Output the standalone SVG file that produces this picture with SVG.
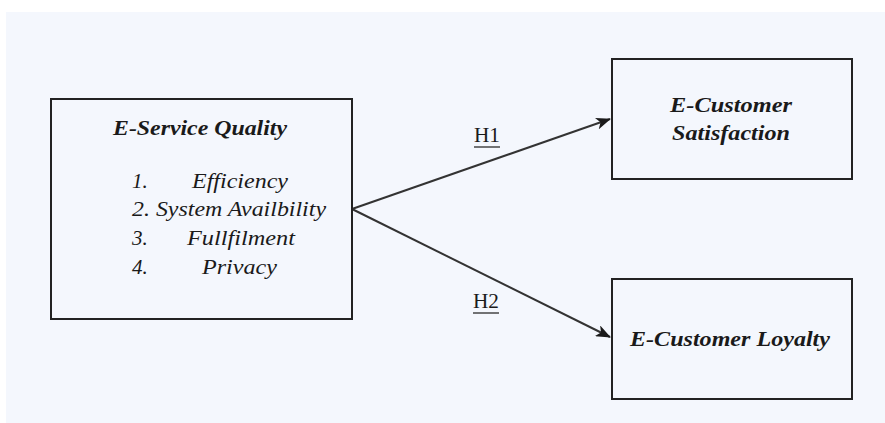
<svg xmlns="http://www.w3.org/2000/svg" width="885" height="423" viewBox="0 0 885 423">
  <defs>
    <marker id="arrow" markerWidth="15" markerHeight="12" refX="14" refY="6" orient="auto" markerUnits="userSpaceOnUse">
      <path d="M0,0 L15,6 L0,12 L4,6 Z" fill="#1a1a1a"/>
    </marker>
  </defs>
  <style>
    .box { fill: #f4f7fd; stroke: #222; stroke-width: 2; }
    .title { font-family: 'Liberation Serif', serif; font-style: italic; font-weight: bold; font-size: 21px; fill: #1a1a1a; }
    .item { font-family: 'Liberation Serif', serif; font-style: italic; font-size: 21px; fill: #1a1a1a; }
    .lbl { font-family: 'Liberation Serif', serif; font-size: 20px; fill: #1a1a1a; }
    .conn { stroke: #333; stroke-width: 2; fill: none; }
  </style>
  <rect x="0" y="0" width="885" height="423" fill="#ffffff"/>
  <rect x="6" y="12" width="879" height="411" fill="#f4f7fd"/>

  <g id="connectors">
    <line class="conn" x1="352" y1="209" x2="610" y2="119" marker-end="url(#arrow)"/>
    <line class="conn" x1="352" y1="209" x2="610" y2="337" marker-end="url(#arrow)"/>
    <g id="label-h1">
      <text class="lbl" x="474" y="142" textLength="26" lengthAdjust="spacingAndGlyphs">H1</text>
      <line x1="474" y1="147" x2="500" y2="147" stroke="#1a1a1a" stroke-width="1.2"/>
    </g>
    <g id="label-h2">
      <text class="lbl" x="473" y="308" textLength="26" lengthAdjust="spacingAndGlyphs">H2</text>
      <line x1="473" y1="313" x2="499" y2="313" stroke="#1a1a1a" stroke-width="1.2"/>
    </g>
  </g>

  <g id="e-service-quality">
    <rect class="box" x="51" y="99" width="301" height="220"/>
    <text class="title" x="113" y="135" textLength="174" lengthAdjust="spacingAndGlyphs">E-Service Quality</text>
    <text class="item" x="132" y="188">1.</text>
    <text class="item" x="192" y="188" textLength="96" lengthAdjust="spacingAndGlyphs">Efficiency</text>
    <text class="item" x="132" y="216" textLength="194" lengthAdjust="spacingAndGlyphs">2. System Availbility</text>
    <text class="item" x="132" y="245">3.</text>
    <text class="item" x="187" y="245" textLength="108" lengthAdjust="spacingAndGlyphs">Fullfilment</text>
    <text class="item" x="132" y="274">4.</text>
    <text class="item" x="202" y="274" textLength="75" lengthAdjust="spacingAndGlyphs">Privacy</text>
  </g>

  <g id="e-customer-satisfaction">
    <rect class="box" x="612" y="59" width="240" height="120"/>
    <text class="title" x="731" y="112" text-anchor="middle" textLength="122" lengthAdjust="spacingAndGlyphs">E-Customer</text>
    <text class="title" x="731" y="140" text-anchor="middle" textLength="118" lengthAdjust="spacingAndGlyphs">Satisfaction</text>
  </g>

  <g id="e-customer-loyalty">
    <rect class="box" x="612" y="279" width="240" height="120"/>
    <text class="title" x="730" y="346" text-anchor="middle" textLength="200" lengthAdjust="spacingAndGlyphs">E-Customer Loyalty</text>
  </g>
</svg>
